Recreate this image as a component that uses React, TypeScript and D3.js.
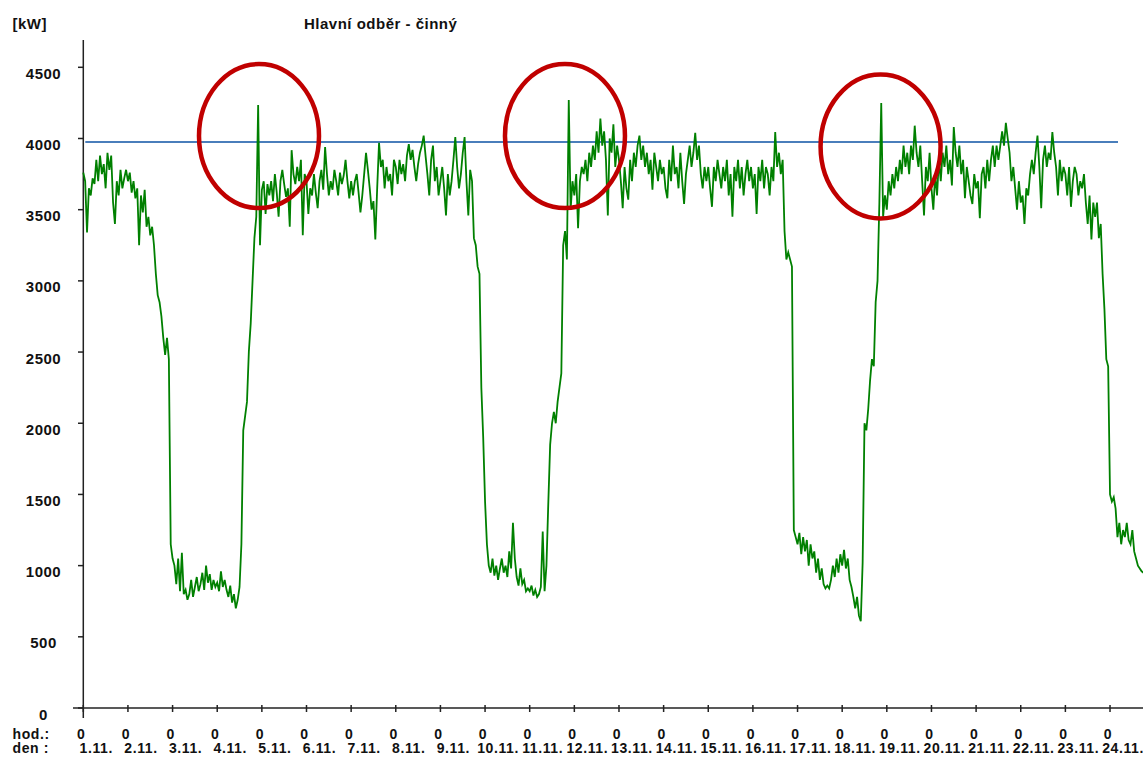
import React from "react";
import * as d3 from "d3";

// hourly readings per day, kW
const d01 = [3760, 3700, 3340, 3650, 3600, 3720, 3680, 3850, 3700, 3880, 3750, 3820, 3650, 3900, 3780, 3880, 3550, 3400, 3700, 3600, 3780, 3650, 3720, 3780];
const d02 = [3700, 3760, 3620, 3700, 3580, 3650, 3250, 3600, 3480, 3640, 3380, 3450, 3320, 3380, 3250, 3050, 2900, 2850, 2750, 2600, 2480, 2600, 2450, 1150];
const d03 = [1050, 1000, 870, 1050, 820, 1090, 800, 830, 760, 800, 900, 780, 850, 920, 820, 870, 950, 830, 1000, 880, 940, 830, 900, 850];
const d04 = [880, 820, 960, 850, 900, 830, 780, 860, 740, 800, 700, 760, 850, 1150, 1950, 2050, 2150, 2500, 2700, 3000, 3300, 3450, 4235, 3250];
const d05 = [3640, 3700, 3470, 3680, 3600, 3700, 3560, 3750, 3620, 3450, 3700, 3780, 3680, 3590, 3650, 3380, 3918, 3750, 3680, 3800, 3700, 3850, 3320, 3750];
const d06 = [3700, 3470, 3650, 3600, 3750, 3620, 3510, 3700, 3780, 3640, 3940, 3750, 3600, 3700, 3640, 3780, 3700, 3600, 3760, 3680, 3740, 3850, 3700, 3580];
const d07 = [3700, 3600, 3700, 3750, 3620, 3480, 3600, 3750, 3900, 3780, 3650, 3500, 3560, 3290, 3650, 3970, 3800, 3850, 3650, 3800, 3700, 3750, 3600, 3850];
const d08 = [3800, 3680, 3850, 3750, 3820, 3700, 3880, 3960, 3850, 3920, 3800, 3700, 3820, 3900, 3950, 4020, 3880, 3750, 3600, 3850, 3950, 3700, 3800, 3600];
const d09 = [3700, 3800, 3650, 3460, 3750, 3600, 3700, 3850, 4010, 3800, 3650, 3750, 3900, 4010, 3700, 3460, 3780, 3700, 3300, 3250, 3100, 3050, 2250, 1900];
const d10 = [1450, 1150, 1000, 950, 1050, 930, 1000, 900, 980, 1050, 950, 1000, 920, 1100, 980, 1300, 1050, 920, 860, 980, 870, 900, 820, 840];
const d11 = [820, 860, 790, 830, 780, 800, 850, 1240, 820, 1000, 1440, 1850, 2000, 2080, 2000, 2150, 2250, 2350, 3250, 3350, 3150, 4270, 3500, 3700];
const d12 = [3600, 3750, 3370, 3700, 3800, 3750, 3850, 3700, 3900, 3800, 3950, 3850, 4050, 3900, 4140, 3950, 4050, 3850, 3460, 4000, 3900, 4100, 3800, 3950];
const d13 = [3850, 3700, 3510, 3800, 3650, 3570, 3850, 3700, 3900, 3800, 3950, 4020, 3850, 3950, 3800, 3900, 3750, 3850, 3640, 3900, 3800, 3700, 3850, 3750];
const d14 = [3800, 3650, 3580, 3850, 3700, 3950, 3750, 3800, 3650, 3900, 3700, 3540, 3750, 3850, 3950, 3800, 3900, 4040, 3850, 3950, 3750, 3650, 3800, 3700];
const d15 = [3800, 3650, 3520, 3800, 3700, 3850, 3750, 3650, 3800, 3700, 3850, 3600, 3750, 3450, 3800, 3700, 3850, 3650, 3800, 3600, 3750, 3850, 3700, 3800];
const d16 = [3650, 3750, 3470, 3800, 3700, 3850, 3650, 3800, 3750, 3600, 3800, 3700, 4045, 3800, 3900, 3750, 3850, 3350, 3150, 3200, 3150, 3100, 1250, 1200];
const d17 = [1150, 1230, 1080, 1200, 1100, 1180, 1000, 1150, 1050, 1100, 950, 1050, 900, 980, 870, 840, 860, 840, 900, 1000, 920, 1050, 950, 1080];
const d18 = [1000, 1110, 980, 1050, 900, 850, 780, 700, 780, 650, 610, 1020, 2000, 1950, 2100, 2300, 2450, 2400, 2850, 3000, 3550, 4250, 3450, 3600];
const d19 = [3500, 3700, 3600, 3750, 3650, 3800, 3700, 3850, 3750, 3950, 3800, 3900, 3750, 3950, 3850, 4090, 3900, 3800, 3950, 3700, 3460, 3800, 3700, 3900];
const d20 = [3650, 3500, 3750, 3600, 3850, 3700, 3900, 3800, 3950, 3750, 3850, 3670, 4080, 3900, 3800, 3950, 3750, 3850, 3580, 3800, 3700, 3600, 3540, 3750];
const d21 = [3650, 3700, 3440, 3750, 3800, 3650, 3850, 3700, 3850, 3950, 3800, 3950, 3850, 3950, 4050, 3950, 4110, 4000, 3900, 3700, 3800, 3650, 3500, 3700];
const d22 = [3550, 3600, 3400, 3650, 3600, 3750, 3850, 3750, 3900, 4020, 3800, 3510, 3850, 3950, 3800, 3900, 3850, 4045, 3900, 3800, 3600, 3850, 3700, 3800];
const d23 = [3750, 3600, 3800, 3520, 3700, 3800, 3750, 3600, 3700, 3650, 3750, 3550, 3400, 3600, 3290, 3550, 3450, 3550, 3300, 3400, 3050, 2800, 2450, 2400];
const d24 = [1500, 1450, 1480, 1400, 1200, 1300, 1150, 1250, 1200, 1300, 1180, 1150, 1250, 1100, 1050, 1000, 980, 960, 950];

const days = [d01, d02, d03, d04, d05, d06, d07, d08, d09, d10, d11, d12, d13, d14, d15, d16, d17, d18, d19, d20, d21, d22, d23, d24];

const dayLabels = ["1.11.", "2.11.", "3.11.", "4.11.", "5.11.", "6.11.", "7.11.", "8.11.", "9.11.", "10.11.", "11.11.", "12.11.", "13.11.", "14.11.", "15.11.", "16.11.", "17.11.", "18.11.", "19.11.", "20.11.", "21.11.", "22.11.", "23.11.", "24.11."];
const yTicks = [0, 500, 1000, 1500, 2000, 2500, 3000, 3500, 4000, 4500];

const limitKW = 3975;
// circled peaks: [day offset, kW]
const peakTimes = [3.936, 10.79, 17.86];
const peakValues = [4017, 4017, 3944];

const FONT = "'Liberation Sans', Arial, sans-serif";

export default function App() {
  const width = 1143;
  const height = 758;
  const x0 = 83.3;
  const dayW = 44.64;
  const y0 = 708;

  const x = d3.scaleLinear().domain([0, 24]).range([x0, x0 + 24 * dayW]);
  const y = d3.scaleLinear().domain([0, 4500]).range([y0, 67.3]);

  const points: [number, number][] = [];
  days.forEach((vals, di) => {
    vals.forEach((v, h) => points.push([di + h / 24, v]));
  });

  const line = d3
    .line<[number, number]>()
    .x((d) => x(d[0]))
    .y((d) => y(d[1]));

  const txt = {
    fontFamily: FONT,
    fontWeight: 700,
    fontSize: 15,
    letterSpacing: 0.5,
    fill: "#111",
  } as React.CSSProperties;
  const small = { ...txt, fontSize: 14, letterSpacing: 0.6 } as React.CSSProperties;

  return (
    <svg
      width={width}
      height={height}
      style={{ position: "fixed", left: 0, top: 0, background: "#fff" }}
    >
      <rect width={width} height={height} fill="#fff" />
      <text x={12.5} y={29} style={txt}>[kW]</text>
      <text x={304} y={29} style={txt}>Hlavní odběr - činný</text>

      {/* y axis */}
      <line x1={x0} x2={x0} y1={40} y2={718} stroke="#222" strokeWidth={1.5} />
      {yTicks.map((t) => (
        <g key={t}>
          <line x1={78} x2={x0} y1={y(t)} y2={y(t)} stroke="#222" strokeWidth={1.5} />
          <text x={43.5} y={y(t) + 11.5} textAnchor="middle" style={txt}>
            {t}
          </text>
        </g>
      ))}

      {/* x axis */}
      <line x1={73} x2={width} y1={y0} y2={y0} stroke="#222" strokeWidth={1.5} />
      {dayLabels.map((lab, i) => (
        <g key={lab}>
          <line x1={x(i)} x2={x(i)} y1={y0 - 3} y2={y0 + 4} stroke="#222" strokeWidth={1.5} />
          <text x={x(i) - 2} y={739} textAnchor="middle" style={small}>0</text>
          <text x={x(i) + 13} y={753} textAnchor="middle" style={small}>
            {lab}
          </text>
        </g>
      ))}
      <text x={12.5} y={739} style={small}>hod.:</text>
      <text x={12.5} y={753} style={small}>den :</text>

      {/* limit */}
      <line
        x1={x0 + 2}
        x2={1118}
        y1={y(limitKW)}
        y2={y(limitKW)}
        stroke="#4a7ebb"
        strokeWidth={2}
      />

      <path d={line(points) || ""} fill="none" stroke="#008000" strokeWidth={1.8} />

      {peakTimes.map((t, i) => (
        <ellipse
          key={i}
          cx={x(t)}
          cy={y(peakValues[i])}
          rx={60}
          ry={72}
          fill="none"
          stroke="#c00000"
          strokeWidth={4.5}
        />
      ))}
    </svg>
  );
}
